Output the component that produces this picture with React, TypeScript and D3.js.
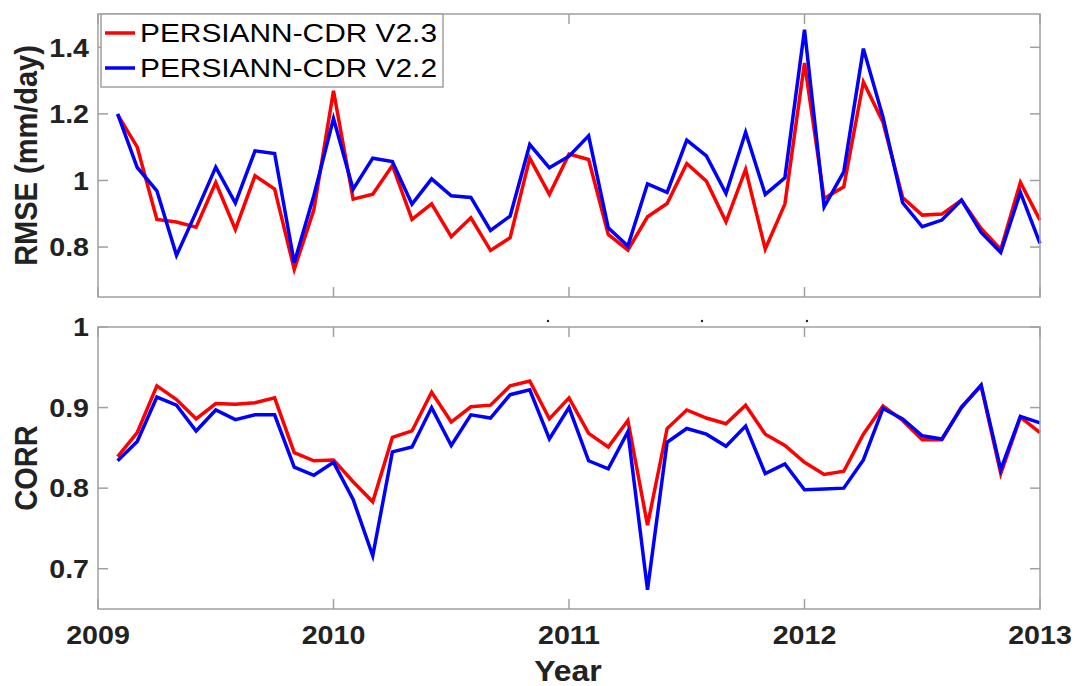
import React from 'react';
import * as d3 from 'd3';

// month index 1..48 => Feb 2009 .. Jan 2013 (monthly samples)
const monthIdx = d3.range(1, 49);
const yearTicks = [0, 12, 24, 36, 48];
const yearLabels = ['2009', '2010', '2011', '2012', '2013'];

const rmseV23 = [
  1.198, 1.1, 0.883, 0.875, 0.86, 0.994, 0.853, 1.014, 0.974, 0.733, 0.912, 1.269,
  0.944, 0.959, 1.045, 0.883, 0.93, 0.831, 0.888, 0.79, 0.828, 1.067, 0.958, 1.079,
  1.063, 0.838, 0.791, 0.891, 0.931, 1.051, 0.998, 0.876, 1.033, 0.794, 0.929, 1.353,
  0.946, 0.981, 1.296, 1.175, 0.949, 0.896, 0.899, 0.941, 0.856, 0.793, 0.994, 0.881,
];
const rmseV22 = [
  1.2, 1.039, 0.969, 0.775, 0.905, 1.04, 0.932, 1.089, 1.081, 0.753, 0.955, 1.186,
  0.974, 1.067, 1.057, 0.929, 1.005, 0.954, 0.949, 0.85, 0.893, 1.108, 1.038, 1.073,
  1.134, 0.858, 0.803, 0.99, 0.964, 1.121, 1.074, 0.961, 1.145, 0.958, 1.008, 1.453,
  0.921, 1.026, 1.396, 1.19, 0.933, 0.861, 0.881, 0.941, 0.844, 0.784, 0.964, 0.811,
];
const corrV23 = [
  0.839, 0.869, 0.927, 0.91, 0.886, 0.905, 0.904, 0.906, 0.912, 0.844, 0.834, 0.835,
  0.808, 0.783, 0.863, 0.871, 0.919, 0.882, 0.901, 0.903, 0.927, 0.933, 0.886, 0.912,
  0.868, 0.851, 0.884, 0.754, 0.874, 0.897, 0.887, 0.88, 0.903, 0.867, 0.853, 0.832,
  0.817, 0.821, 0.867, 0.902, 0.884, 0.86, 0.86, 0.901, 0.927, 0.818, 0.888, 0.869,
];
const corrV22 = [
  0.834, 0.858, 0.913, 0.903, 0.871, 0.897, 0.885, 0.891, 0.891, 0.826, 0.816, 0.832,
  0.786, 0.716, 0.845, 0.851, 0.9, 0.853, 0.891, 0.887, 0.916, 0.922, 0.861, 0.9,
  0.834, 0.824, 0.87, 0.674, 0.857, 0.874, 0.867, 0.852, 0.877, 0.818, 0.83, 0.798,
  0.799, 0.8, 0.835, 0.899, 0.886, 0.865, 0.861, 0.9, 0.928, 0.823, 0.889, 0.881,
];

const rmseTicks = [0.8, 1, 1.2, 1.4];
const corrTicks = [0.7, 0.8, 0.9, 1];
const seriesNames = ['PERSIANN-CDR V2.3', 'PERSIANN-CDR V2.2'];
const seriesColors = ['#ff0000', '#0000ff'];

const FONT = "'Liberation Sans', Arial, Helvetica, sans-serif";
const FRAME = '#a0a0a0';
const SX = 1.1; // horizontal stretch of the original figure's text
const LW = 3.5;

const left = 98;
const right = 1040;
const x = d3.scaleLinear().domain([0, 48]).range([left, right]);

interface PanelProps {
  top: number;
  bottom: number;
  domain: [number, number];
  ticks: number[];
  fmt: (v: number) => string;
  series: number[][];
  label: string;
  showYears: boolean;
}

const Panel: React.FC<PanelProps> = ({ top, bottom, domain, ticks, fmt, series, label, showYears }) => {
  const y = d3.scaleLinear().domain(domain).range([bottom, top]);
  const line = d3
    .line<number>()
    .x((_, i) => x(monthIdx[i]))
    .y((d) => y(d));
  const tl = 10;
  return (
    <g>
      {series.map((s, k) => (
        <path
          key={k}
          d={line(s) ?? ''}
          fill="none"
          stroke={seriesColors[k]}
          strokeWidth={LW}
          strokeLinejoin="miter"
        />
      ))}
      <rect
        x={left}
        y={top}
        width={right - left}
        height={bottom - top}
        fill="none"
        stroke={FRAME}
        strokeWidth={1.5}
      />
      {ticks.map((t) => (
        <g key={t}>
          <line x1={left} x2={left + tl} y1={y(t)} y2={y(t)} stroke={FRAME} strokeWidth={1.5} />
          <line x1={right - tl} x2={right} y1={y(t)} y2={y(t)} stroke={FRAME} strokeWidth={1.5} />
          <text
            transform={`translate(89,${y(t) + 9.3}) scale(${SX},1)`}
            textAnchor="end"
            fontFamily={FONT}
            fontWeight="bold"
            fontSize={26}
            fill="#222"
          >
            {fmt(t)}
          </text>
        </g>
      ))}
      {yearTicks.map((t, i) => (
        <g key={t}>
          <line x1={x(t)} x2={x(t)} y1={bottom} y2={bottom - tl} stroke={FRAME} strokeWidth={1.5} />
          <line x1={x(t)} x2={x(t)} y1={top} y2={top + tl} stroke={FRAME} strokeWidth={1.5} />
          {showYears && (
            <text
              transform={`translate(${x(t)},${bottom + 35}) scale(${SX},1)`}
              textAnchor="middle"
              fontFamily={FONT}
              fontWeight="bold"
              fontSize={26}
              fill="#222"
            >
              {yearLabels[i]}
            </text>
          )}
        </g>
      ))}
      <text
        transform={`translate(37,${(top + bottom) / 2}) scale(${SX},1) rotate(-90)`}
        textAnchor="middle"
        fontFamily={FONT}
        fontWeight="bold"
        fontSize={29}
        fill="#222"
      >
        {label}
      </text>
    </g>
  );
};

export default function App() {
  return (
    <svg
      width={1076}
      height={686}
      style={{ position: 'absolute', left: 0, top: 0, background: '#fff' }}
    >
      <rect width={1076} height={686} fill="#fff" />
      <Panel
        top={14}
        bottom={297}
        domain={[0.65, 1.5]}
        ticks={rmseTicks}
        fmt={(v) => (v === 1 ? '1' : v.toFixed(1))}
        series={[rmseV23, rmseV22]}
        label="RMSE (mm/day)"
        showYears={false}
      />
      <Panel
        top={327}
        bottom={609}
        domain={[0.65, 1]}
        ticks={corrTicks}
        fmt={(v) => (v === 1 ? '1' : v.toFixed(1))}
        series={[corrV23, corrV22]}
        label="CORR"
        showYears={true}
      />
      {/* legend */}
      <g>
        <rect x={101} y={14} width={342} height={73} fill="#fff" stroke={FRAME} strokeWidth={1.5} />
        {seriesNames.map((n, k) => (
          <g key={n}>
            <line x1={105} x2={135} y1={33 + k * 35} y2={33 + k * 35} stroke={seriesColors[k]} strokeWidth={LW} />
            <text
              x={140}
              y={42 + k * 35}
              fontFamily={FONT}
              fontSize={26}
              textLength={297}
              lengthAdjust="spacingAndGlyphs"
              fill="#000"
            >
              {n}
            </text>
          </g>
        ))}
      </g>
      {/* small stray marks between the panels */}
      {[548, 702, 807].map((px) => (
        <circle key={px} cx={px} cy={321} r={1.2} fill="#222" />
      ))}
      <text
        transform={`translate(568,681) scale(${SX},1)`}
        textAnchor="middle"
        fontFamily={FONT}
        fontWeight="bold"
        fontSize={29}
        fill="#222"
      >
        Year
      </text>
    </svg>
  );
}
